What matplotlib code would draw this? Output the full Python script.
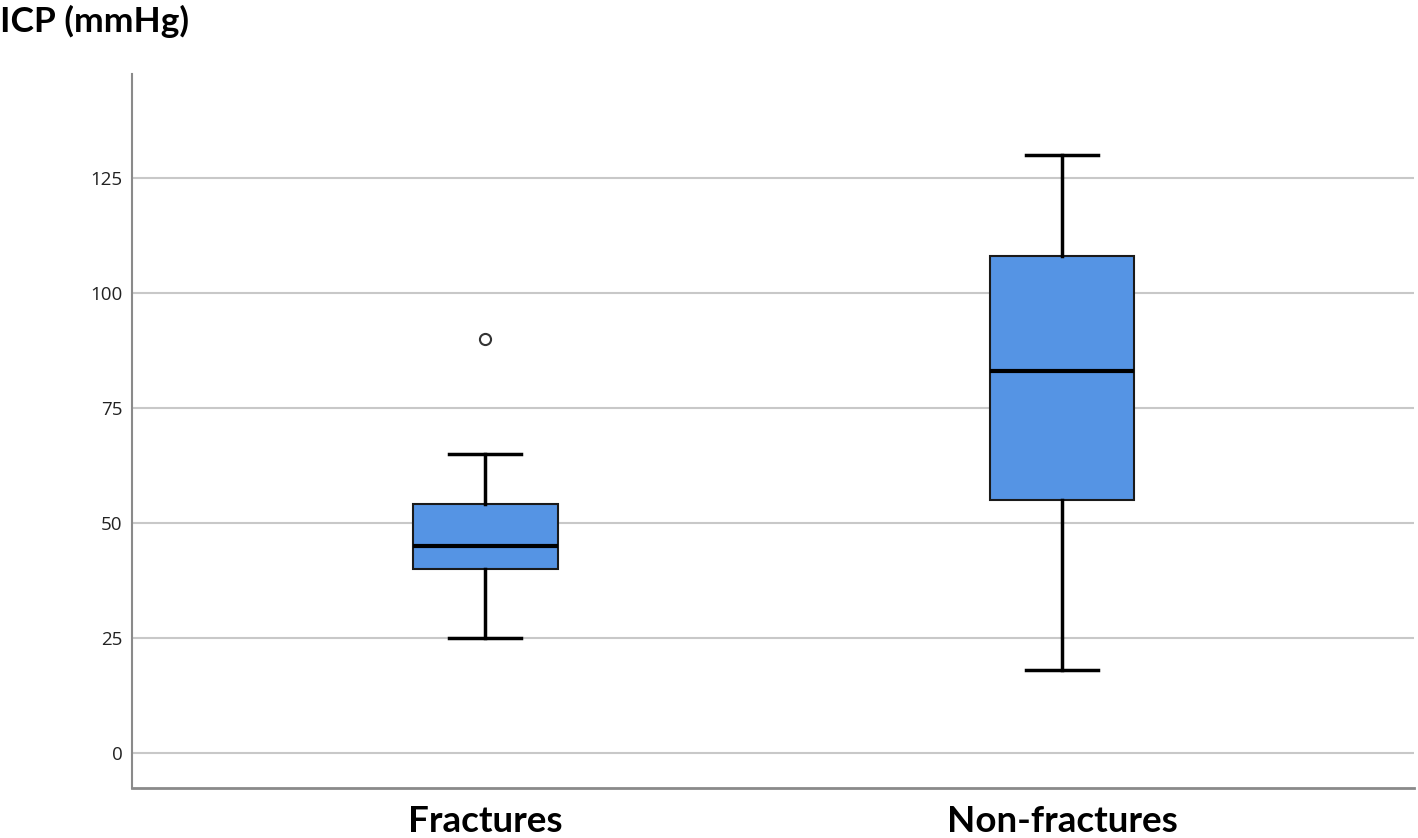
import matplotlib
matplotlib.use("Agg")
import matplotlib.pyplot as plt

# box statistics (mmHg)
groups = ["Fractures", "Non-fractures"]
whisker_low = [25, 18]
q1 = [40, 55]
medians = [45, 83]
q3 = [54, 108]
whisker_high = [65, 130]
outliers = [[90], []]
yticks = [0, 25, 50, 75, 100, 125]

stats = []
for i, g in enumerate(groups):
    stats.append({"label": g, "whislo": whisker_low[i], "q1": q1[i], "med": medians[i],
                  "q3": q3[i], "whishi": whisker_high[i], "fliers": outliers[i]})

fig = plt.figure(figsize=(14.18, 8.38), dpi=100)
ax = fig.add_axes([132/1418, 1 - 788/838, (1414-132)/1418, (788-74)/838])

ax.bxp(stats, positions=[1, 2], widths=0.251, capwidths=0.125, patch_artist=True,
       boxprops=dict(facecolor="#5594e4", edgecolor="#1a1a1a", linewidth=1.5),
       medianprops=dict(color="black", linewidth=3),
       whiskerprops=dict(color="black", linewidth=2.5),
       capprops=dict(color="black", linewidth=2.5),
       flierprops=dict(marker="o", markerfacecolor="white", markeredgecolor="#333333",
                       markersize=8, markeredgewidth=1.5),
       zorder=3)

ax.set_xlim(0.388, 2.61)
ax.set_ylim(-7.7, 147.6)
ax.set_yticks(yticks)
ax.set_yticklabels([str(t) for t in yticks], fontsize=13.5, color="#222222", family="Open Sans")
ax.tick_params(axis="y", length=0, pad=7)
ax.tick_params(axis="x", length=0, pad=12)
ax.set_xticklabels(groups, fontsize=26.5, fontweight="bold", family="Lato")
ax.grid(axis="y", color="#c8c8c8", linewidth=1.5, zorder=0)
ax.set_axisbelow(True)

for s in ["top", "right"]:
    ax.spines[s].set_visible(False)
ax.spines["left"].set_color("#8a8a8a")
ax.spines["left"].set_linewidth(1.5)
ax.spines["bottom"].set_color("#8a8a8a")
ax.spines["bottom"].set_linewidth(2)

fig.text(0, 1 - 21/838, "ICP (mmHg)", fontsize=25.5, fontweight="bold", family="Lato",
         va="center", ha="left")

fig.savefig("out.png", dpi=100, facecolor="white")
